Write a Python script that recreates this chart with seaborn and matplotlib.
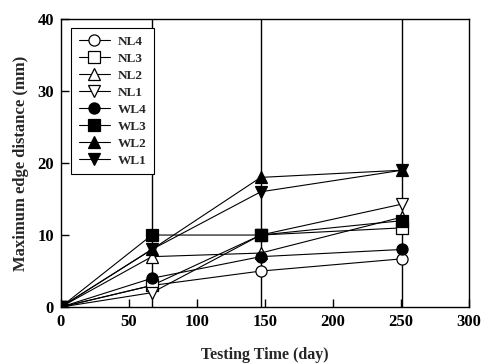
import matplotlib
matplotlib.use("Agg")
import matplotlib.pyplot as plt
import seaborn as sns
import pandas as pd

# Measurement days and maximum edge distance (mm) per specimen
days = [0, 67, 147, 251]
NL4 = [0, 3, 5, 6.7]
NL3 = [0, 3, 10, 11]
NL2 = [0, 7, 7.5, 12.5]
NL1 = [0, 2, 10, 14.3]
WL4 = [0, 4, 7, 8]
WL3 = [0, 10, 10, 12]
WL2 = [0, 8, 18, 19]
WL1 = [0, 8, 16, 19]

series = {"NL4": NL4, "NL3": NL3, "NL2": NL2, "NL1": NL1,
          "WL4": WL4, "WL3": WL3, "WL2": WL2, "WL1": WL1}
markers = {"NL4": "o", "NL3": "s", "NL2": "^", "NL1": "v",
           "WL4": "o", "WL3": "s", "WL2": "^", "WL1": "v"}
filled = {"NL4": False, "NL3": False, "NL2": False, "NL1": False,
          "WL4": True, "WL3": True, "WL2": True, "WL1": True}

sns.set_theme(style="ticks")
plt.rcParams["font.family"] = ["Liberation Serif", "DejaVu Serif"]
plt.rcParams["font.weight"] = "bold"

fig = plt.figure(figsize=(4.83, 3.63), dpi=100)
ax = fig.add_axes([0.1257, 0.154, 0.845, 0.794])

# Vertical guide lines at each measurement day
for d in days[1:]:
    ax.axvline(d, color="black", lw=1.0, zorder=1)

for name, vals in series.items():
    df = pd.DataFrame({"day": days, "dist": vals})
    sns.lineplot(data=df, x="day", y="dist", ax=ax, color="black", lw=0.8,
                 marker=markers[name], markersize=8,
                 markerfacecolor="black" if filled[name] else "white",
                 markeredgecolor="black", markeredgewidth=0.9,
                 label=name, zorder=3)

ax.set_xlim(0, 300)
ax.set_ylim(0, 40)
ax.set_xticks([0, 50, 100, 150, 200, 250, 300])
ax.set_yticks([0, 10, 20, 30, 40])
ax.tick_params(direction="in", length=6, width=1, labelsize=12, pad=5,
               colors="black")
for lab in ax.get_xticklabels() + ax.get_yticklabels():
    lab.set_fontweight("bold")
for sp in ax.spines.values():
    sp.set_linewidth(1.0)
    sp.set_color("black")

ax.set_xlabel("Testing Time (day)", fontsize=11.5, fontweight="bold", labelpad=12)
ax.set_ylabel("Maximum edge distance (mm)", fontsize=12, fontweight="bold",
              labelpad=6)

leg = ax.legend(loc="upper left", bbox_to_anchor=(0.01, 0.99),
                frameon=True, fancybox=False, framealpha=1,
                edgecolor="black", fontsize=9.5, handlelength=2.4,
                labelspacing=0.36, borderpad=0.55, handletextpad=0.6)
leg.get_frame().set_linewidth(0.8)
for t in leg.get_texts():
    t.set_fontweight("bold")

fig.savefig("out.png", dpi=100)
